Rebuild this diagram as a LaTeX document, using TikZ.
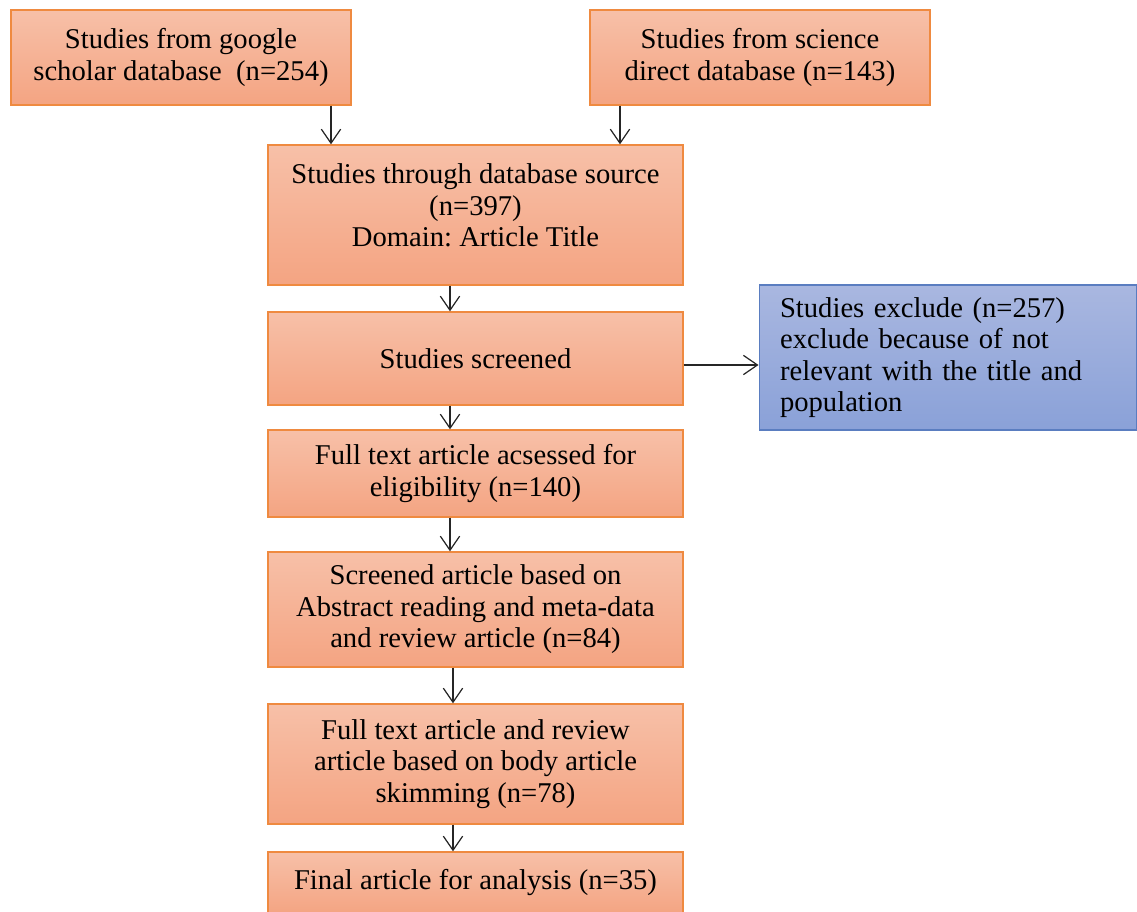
\documentclass[tikz,border=0pt]{standalone}
\usepackage{fontspec}
\setmainfont{Liberation Serif}
\usetikzlibrary{arrows.meta}
\frenchspacing
\definecolor{boxtop}{HTML}{F7C0A8}
\definecolor{boxbot}{HTML}{F4A482}
\definecolor{boxline}{HTML}{EF8A40}
\definecolor{exctop}{HTML}{A9B7E0}
\definecolor{excbot}{HTML}{8AA1D8}
\definecolor{excline}{HTML}{5A7DC0}
\begin{document}
\begin{tikzpicture}[x=0.02cm,y=-0.02cm,
    every node/.style={font=\fontsize{16.3}{17.9}\selectfont,align=center,inner sep=0pt},
    stagebox/.style={draw=boxline,line width=0.8pt,top color=boxtop,bottom color=boxbot,minimum width=8.3cm},
    excbox/.style={draw=excline,line width=0.6pt,top color=exctop,bottom color=excbot,align=left,
      text width=6.72cm,minimum width=7.56cm,minimum height=2.9cm},
    flow/.style={line width=0.7pt,draw=black!85,-{Straight Barb[length=8pt,width=11pt]}}]
      \useasboundingbox (0,0) rectangle (1137,912);

      \node[stagebox,minimum width=6.8cm,minimum height=1.9cm] (google) at (181,57.5) {Studies from google\\scholar database~~(n=254)};
      \node[stagebox,minimum width=6.8cm,minimum height=1.9cm] (science) at (760,57.5) {Studies from science\\direct database (n=143)};

      \node[stagebox,minimum height=2.8cm] (source) at (475.5,215) {Studies through database source\\(n=397)\\Domain: Article Title\\[-6.8pt]\mbox{}};
      \node[stagebox,minimum height=1.86cm] (screen) at (475.5,358.5) {Studies screened};
      \node[excbox] (exclude) at (948,357.5) {Studies exclude (n=257)\\exclude because of not\\relevant with the title and\\population};

      \node[stagebox,minimum height=1.74cm] (elig) at (475.5,473.5) {Full text article acsessed for\\eligibility (n=140)};
      \node[stagebox,minimum height=2.3cm] (abstr) at (475.5,609.5) {Screened article based on\\Abstract reading and meta-data\\and review article (n=84)};
      \node[stagebox,minimum height=2.4cm] (body) at (475.5,764) {Full text article and review\\article based on body article\\skimming (n=78)};
      \node[stagebox,minimum height=1.24cm] (final) at (475.5,883) {Final article for analysis (n=35)};

      \draw[flow] (google.south -| 331,0) -- (source.north -| 331,0);
      \draw[flow] (science.south -| 620,0) -- (source.north -| 620,0);
      \draw[flow] (source.south -| 450,0) -- (screen.north -| 450,0);
      \draw[flow] (screen.south -| 450,0) -- (elig.north -| 450,0);
      \draw[flow] (elig.south -| 450,0) -- (abstr.north -| 450,0);
      \draw[flow] (abstr.south -| 453,0) -- (body.north -| 453,0);
      \draw[flow] (body.south -| 453,0) -- (final.north -| 453,0);
      \draw[flow] (screen.east |- 0,365) -- (exclude.west |- 0,365);
    \end{tikzpicture}
\end{document}
